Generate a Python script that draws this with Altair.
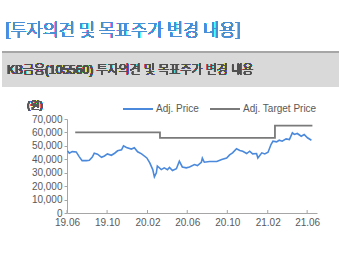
import altair as alt
import pandas as pd

FONT = "Liberation Sans, Arial, Noto Sans CJK KR"
KFONT = "Noto Sans CJK KR"

price_dates = [
    "2019-06-03", "2019-06-08", "2019-06-17", "2019-06-29", "2019-07-08", "2019-07-17",
    "2019-07-30", "2019-08-08", "2019-08-17", "2019-08-23", "2019-09-02", "2019-09-14",
    "2019-09-23", "2019-10-02", "2019-10-14", "2019-10-24", "2019-11-02", "2019-11-14",
    "2019-11-20", "2019-11-29", "2019-12-14", "2019-12-23", "2020-01-02", "2020-01-14",
    "2020-01-30", "2020-02-08", "2020-02-17", "2020-02-22", "2020-02-28", "2020-03-02",
    "2020-03-14", "2020-03-23", "2020-04-02", "2020-04-08",
    "2020-04-17", "2020-04-29", "2020-05-08", "2020-05-17", "2020-05-29", "2020-06-08",
    "2020-06-23", "2020-07-02", "2020-07-14", "2020-07-17", "2020-07-23", "2020-08-08",
    "2020-08-30", "2020-09-14", "2020-09-29", "2020-10-08", "2020-10-17", "2020-10-29",
    "2020-11-08", "2020-11-17", "2020-11-29", "2020-12-08", "2020-12-17", "2020-12-29",
    "2021-01-02", "2021-01-14", "2021-01-23", "2021-02-02", "2021-02-11", "2021-02-17",
    "2021-02-28", "2021-03-08", "2021-03-17", "2021-03-29", "2021-04-08", "2021-04-17",
    "2021-04-23", "2021-05-02", "2021-05-14", "2021-05-23", "2021-06-02", "2021-06-14",
]
price_values = [
    46300, 44500, 45700, 45500, 42000, 39000, 39000, 39300, 41600, 44500, 43800, 41500,
    42500, 44000, 43000, 44500, 46300, 47000, 50000, 48800, 47600, 48600, 45600, 44000,
    41000, 37300, 32300, 26900, 29900, 35000, 32300, 33600, 32300, 34000,
    31600, 33000, 38600, 34300, 33600, 34300, 36100, 35300, 37800, 40800, 37800, 38300,
    38300, 39800, 41000, 43300, 44800, 47800, 46500, 46000, 44300, 46000, 44000, 44300,
    41000, 44800, 44000, 45300, 51000, 53500, 53000, 54200, 53500, 55200, 54700, 59700,
    58500, 59200, 57200, 58500, 56000, 54200,
]

target_dates = ["2019-06-26", "2020-03-10", "2021-02-23", "2021-06-17"]
target_values = [60000, 56000, 65000, 65000]

series_names = ["Adj. Price", "Adj. Target Price"]
series_colors = ["#4a89dc", "#7a7a7a"]

tick_dates = ["2019-06-01", "2019-10-01", "2020-02-01", "2020-06-01",
              "2020-10-01", "2021-02-01", "2021-06-01"]
y_max = 70000
y_step = 10000

header_title = "[투자의견 및 목표주가 변경 내용]"
box_title = "KB금융(105560) 투자의견 및 목표주가 변경 내용"
y_unit = "(원)"

price_df = pd.DataFrame({"date": price_dates, "value": price_values, "series": series_names[0]})
target_df = pd.DataFrame({"date": target_dates, "value": target_values, "series": series_names[1]})
ticks_df = pd.DataFrame({"date": tick_dates})

x_scale = alt.Scale(domain=["2019-06-01", "2021-07-01"])
y_scale = alt.Scale(domain=[0, y_max], nice=False)
color_scale = alt.Scale(domain=series_names, range=series_colors)

x_axis = alt.Axis(values=tick_dates, labelExpr="timeFormat(datum.value, '%y.%m')",
                  ticks=False, grid=False, domainColor="#a6a6a6", labelFont=FONT,
                  labelFontSize=10, labelColor="#595959", labelPadding=4, labelFlush=False,
                  labelOverlap=False)
y_axis = alt.Axis(tickCount=y_max // y_step, format=",.0f", grid=False,
                  domainColor="#a6a6a6", tickColor="#a6a6a6", tickSize=3, labelFont=FONT,
                  labelFontSize=10, labelColor="#595959", labelPadding=2,
                  labelOverlap=False, labelFlush=False)
legend = alt.Legend(orient="none", legendX=55, legendY=-26, direction="horizontal",
                    title=None, symbolType="stroke", symbolSize=900, symbolStrokeWidth=2,
                    labelFont=FONT, labelFontSize=10, labelColor="#595959",
                    labelOffset=2, columnPadding=7, padding=0)

x_enc = alt.X("date:T", scale=x_scale, title=None, axis=x_axis)
y_enc = alt.Y("value:Q", scale=y_scale, title=None, axis=y_axis)
color_enc = alt.Color("series:N", scale=color_scale, legend=legend)

price_line = alt.Chart(price_df).mark_line(strokeWidth=1.6).encode(
    x=x_enc, y=y_enc, color=color_enc)
target_line = alt.Chart(target_df).mark_line(strokeWidth=1.8, interpolate="step-after").encode(
    x=x_enc, y=y_enc, color=color_enc)

x_ticks = alt.Chart(ticks_df).mark_rule(color="#a6a6a6", strokeWidth=1).encode(
    x=alt.X("date:T", scale=x_scale, axis=x_axis, title=None), y=alt.value(91), y2=alt.value(94))

bar = alt.Chart(price_df).mark_rect(color="#d9d9d9").encode(
    x=alt.value(-65), x2=alt.value(272), y=alt.value(-66), y2=alt.value(-32))
bar_line = alt.Chart(price_df).mark_rule(color="#a6a6a6", strokeWidth=1.5).encode(
    x=alt.value(-65), x2=alt.value(272), y=alt.value(-67))

header = alt.Chart(price_df).mark_text(
    text=header_title, font=KFONT, fontSize=17.5, fontWeight=300, color="#4a8fd2",
    align="left", baseline="middle").encode(x=alt.value(-62), y=alt.value(-88))
box_text = alt.Chart(price_df).mark_text(
    text=box_title, font=FONT, fontSize=12, fontWeight=300, color="#505050",
    align="left", baseline="middle").encode(x=alt.value(-60), y=alt.value(-49))
unit_text = alt.Chart(price_df).mark_text(
    text=y_unit, font=FONT, fontSize=10, color="#595959", align="center",
    baseline="middle").encode(x=alt.value(-32), y=alt.value(-13))

chart = alt.layer(
    price_line, target_line, x_ticks, bar, bar_line, header, box_text, unit_text
).properties(
    width=250, height=94,
    autosize=alt.AutoSizeParams(type="none"),
    padding={"left": 67, "top": 119, "right": 22, "bottom": 41},
    background="white",
).configure_view(stroke=None)

chart.save("out.html", embed_options={"renderer": "svg", "actions": False})
